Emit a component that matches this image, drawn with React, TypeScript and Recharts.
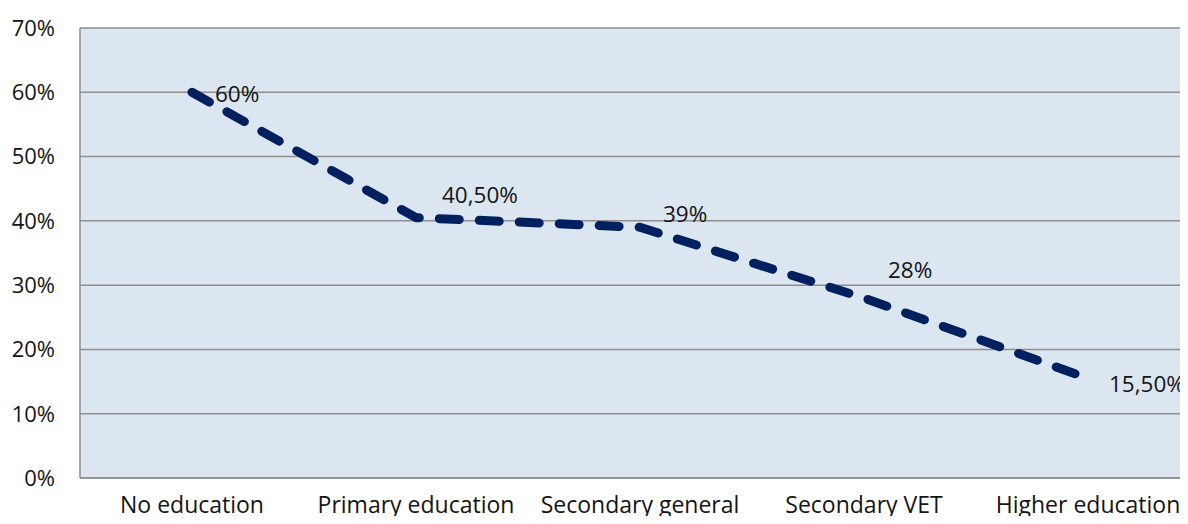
import { LineChart, Line, XAxis, YAxis, CartesianGrid, LabelList } from 'recharts'

const levels = ['No education', 'Primary education', 'Secondary general', 'Secondary VET', 'Higher education']
const shares = [60, 40.5, 39, 28, 15.5]
const yTicks = [0, 10, 20, 30, 40, 50, 60, 70]

// label nudges (dx, dy) so the values sit clear of the dashes
const labelNudge: [number, number][] = [
  [23, 1],
  [26, -23],
  [23, -14],
  [24, -29],
  [21, 5],
]

const data = levels.map((level, i) => ({ level, share: shares[i] }))

const FONT = '"Open Sans", "Noto Sans", sans-serif'
const GRID = '#8e8e8e'
const TEXT = '#141414'

function formatShare(v: number): string {
  if (Number.isInteger(v)) return `${v}%`
  return `${v.toFixed(2).replace('.', ',')}%`
}

function ValueLabel(props: any) {
  const { x, y, value, index } = props
  const [dx, dy] = labelNudge[index] ?? [20, 0]
  return (
    <text
      x={x + dx}
      y={y + dy}
      fill={TEXT}
      fontSize={22.5}
      fontFamily={FONT}
      dominantBaseline="central"
    >
      {formatShare(value)}
    </text>
  )
}

export default function App() {
  return (
    <div style={{ margin: -8, width: 1188, height: 524, overflow: 'hidden', background: '#fff' }}>
      <LineChart
        width={1210}
        height={524}
        data={data}
        margin={{ top: 28, right: 10, left: 0, bottom: 0 }}
      >
        <CartesianGrid
          vertical={false}
          stroke={GRID}
          strokeWidth={1.5}
          fill="#dce6f1"
          fillOpacity={1}
        />
        <XAxis
          dataKey="level"
          height={46}
          padding={{ left: 112, right: 112 }}
          tickLine={false}
          tickSize={0}
          tickMargin={19}
          axisLine={{ stroke: GRID, strokeWidth: 1.5 }}
          tick={{ fill: TEXT, fontSize: 23, fontFamily: FONT }}
          interval={0}
        />
        <YAxis
          width={80}
          domain={[0, 70]}
          ticks={yTicks}
          tickFormatter={(v: number) => `${v}%`}
          tickLine={false}
          tickSize={0}
          tickMargin={25}
          axisLine={{ stroke: GRID, strokeWidth: 1.5 }}
          tick={{ fill: TEXT, fontSize: 22, fontFamily: FONT }}
        />
        <Line
          type="linear"
          dataKey="share"
          stroke="#002060"
          strokeWidth={9}
          strokeDasharray="20 20"
          strokeLinecap="round"
          strokeLinejoin="round"
          dot={false}
          activeDot={false}
          isAnimationActive={false}
        >
          <LabelList dataKey="share" content={<ValueLabel />} />
        </Line>
      </LineChart>
    </div>
  )
}
